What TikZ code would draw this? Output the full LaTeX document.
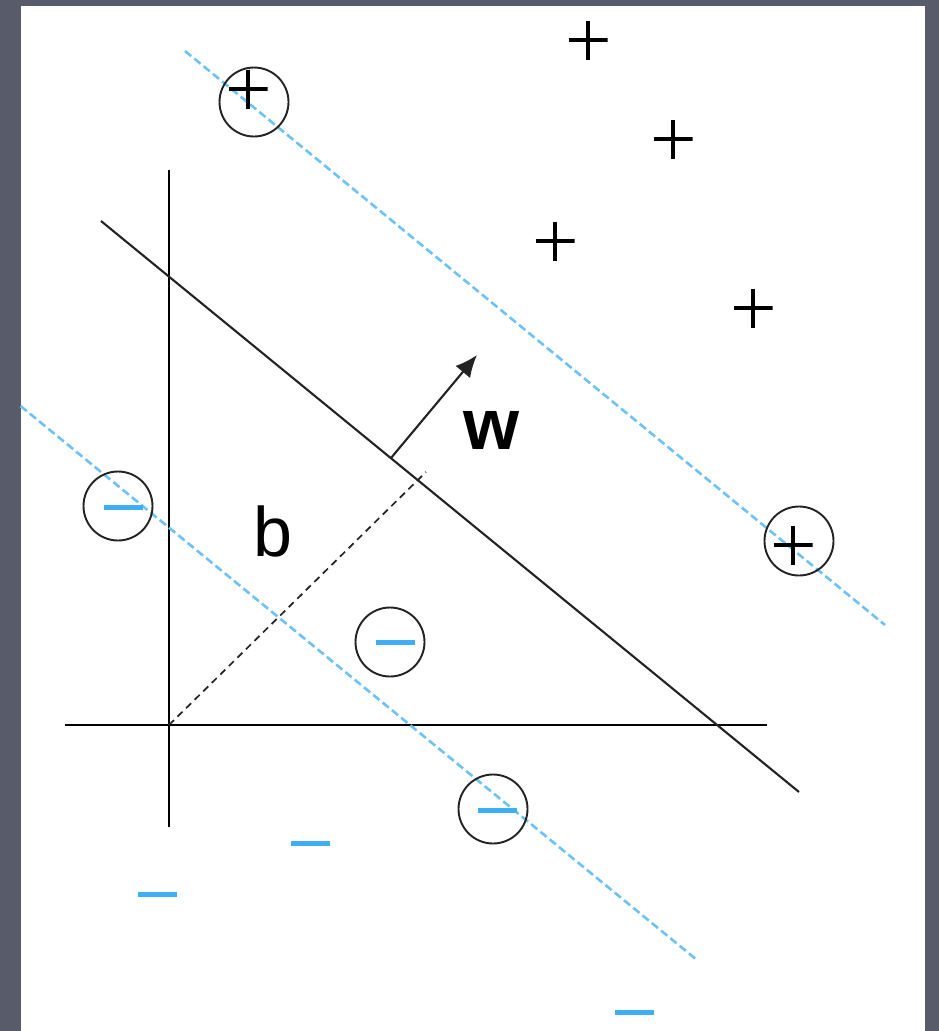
\documentclass[tikz,border=0pt]{standalone}
\usepackage{fontspec}
\newfontfamily\arialfont{Liberation Sans}
\usetikzlibrary{arrows.meta}
\definecolor{bgslate}{RGB}{88,92,106}
\definecolor{dashblue}{RGB}{110,195,246}
\definecolor{minusblue}{RGB}{62,175,245}
\definecolor{inkgray}{RGB}{35,35,35}
\tikzset{
  axisline/.style={line width=2.6pt, black},
  sepline/.style={line width=2.1pt, inkgray},
  marginline/.style={line width=2.6pt, dashblue, dash pattern=on 8pt off 4pt},
  offsetline/.style={line width=1.7pt, inkgray, dash pattern=on 7pt off 5pt},
  ring/.style={circle, draw=inkgray, line width=1.9pt, minimum size=69pt, inner sep=0pt},
  plusmark/.style={minimum size=39pt, inner sep=0pt,
    path picture={\draw[line width=4pt, black]
      (path picture bounding box.north) -- (path picture bounding box.south)
      (path picture bounding box.west) -- (path picture bounding box.east);}},
  minusmark/.style={minimum width=39pt, minimum height=5pt, inner sep=0pt, fill=minusblue},
  biglabel/.style={inner sep=0pt, font=\arialfont\fontsize{70}{70}\selectfont}
}
\begin{document}
\begin{tikzpicture}[x=1pt, y=-1pt]
\useasboundingbox (0,0) rectangle (939,1031);
\fill[bgslate] (0,0) rectangle (939,1031);
\fill[white] (20.5,6) rectangle (925,1031);

% axes
\coordinate (ytop) at (169,170);
\coordinate (ybot) at (169,827);
\coordinate (xleft) at (65,725);
\coordinate (xright) at (767,725);
\coordinate (origin) at (169,725);
\draw[axisline] (ytop) -- (ybot);
\draw[axisline] (xleft) -- (xright);

% separating line and margins
\coordinate (sepA) at (101,221);
\coordinate (sepB) at (799,792);
\draw[sepline] (sepA) -- (sepB);
\coordinate (upA) at (185,51);
\coordinate (upB) at (885,625);
\draw[marginline] (upA) -- (upB);
\coordinate (loA) at (20.5,406);
\coordinate (loB) at (697,960);
\draw[marginline] (loA) -- (loB);

% offset b (dashed)
\coordinate (bend) at (426,472);
\draw[offsetline] (origin) -- (bend);

% normal vector w
\coordinate (wstart) at (391,458);
\coordinate (wtip) at (477,355);
\draw[line width=2.1pt, inkgray, -{Latex[length=22pt,width=19pt]}] (wstart) -- (wtip);
\node[biglabel, font=\arialfont\bfseries\fontsize{72}{72}\selectfont, anchor=base] (wlab) at (491,449) {w};
\node[biglabel, anchor=base] (blab) at (273,556) {b};

% support vectors (circled)
\node[ring] (c1) at (254,102) {};
\node[plusmark] (c1p) at (248,89) {};
\node[ring] (c2) at (799,541) {};
\node[plusmark] (c2p) at (793,545) {};
\node[ring] (c3) at (118,506) {};
\node[minusmark] (c3m) at (123,507) {};
\node[ring] (c4) at (390,642) {};
\node[minusmark] (c4m) at (395,642) {};
\node[ring] (c5) at (493,809) {};
\node[minusmark] (c5m) at (497,810) {};

% other points
\node[plusmark] (p1) at (588,40) {};
\node[plusmark] (p2) at (673,139) {};
\node[plusmark] (p3) at (555,241) {};
\node[plusmark] (p4) at (753,308) {};
\node[minusmark] (m1) at (310,843) {};
\node[minusmark] (m2) at (157,894) {};
\node[minusmark] (m3) at (634,1012) {};
\end{tikzpicture}
\end{document}
